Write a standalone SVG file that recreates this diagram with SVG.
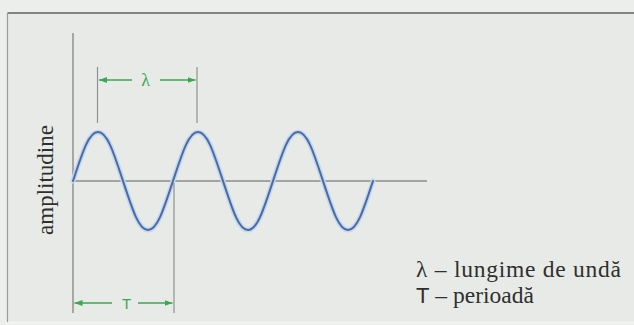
<svg xmlns="http://www.w3.org/2000/svg" width="634" height="325" viewBox="0 0 634 325">
  <style>
    .axis { stroke: #8a8c8a; stroke-width: 1.4; fill: none; }
    .guide { stroke: #8f918f; stroke-width: 1.2; fill: none; }
    .dim { stroke: #3aa852; stroke-width: 1.6; fill: none; }
    .halo { stroke: #c2d8ee; stroke-width: 5; fill: none; stroke-linecap: round; }
    .wave { stroke: #4d69a6; stroke-width: 2; fill: none; stroke-linecap: round; }
  </style>
  <defs>
    <marker id="arr" markerUnits="userSpaceOnUse" markerWidth="9" markerHeight="7" refX="8" refY="3.5" orient="auto">
      <path d="M0,0.5 L8,3.5 L0,6.5 z" fill="#3aa852"/>
    </marker>
  </defs>

  <rect x="0" y="0" width="634" height="325" fill="#eceeeb"/>
  <g id="frame">
    <rect x="7.5" y="13" width="627" height="309" fill="#e7eae6"/>
    <line x1="7.5" y1="13" x2="634" y2="13" stroke="#5e605e" stroke-width="1.5"/>
    <line x1="7.5" y1="13" x2="7.5" y2="322" stroke="#9a9c9a" stroke-width="1.2"/>
    <line x1="7.5" y1="322.5" x2="634" y2="322.5" stroke="#f6f7f5" stroke-width="1.5"/>
  </g>

  <g id="axes">
    <line class="axis" x1="73" y1="33" x2="73" y2="313"/>
    <line class="axis" x1="73" y1="181" x2="427" y2="181"/>
  </g>

  <g id="wave">
    <path class="halo" d="M73,181 c 10,-30.5 16,-49 25,-49 c 9,0 15,18.5 25,49 c 10,30.5 16,49 25,49 c 9,0 15,-18.5 25,-49 c 10,-30.5 16,-49 25,-49 c 9,0 15,18.5 25,49 c 10,30.5 16,49 25,49 c 9,0 15,-18.5 25,-49 c 10,-30.5 16,-49 25,-49 c 9,0 15,18.5 25,49 c 10,30.5 16,49 25,49 c 9,0 15,-18.5 25,-49"/>
    <path class="wave" d="M73,181 c 10,-30.5 16,-49 25,-49 c 9,0 15,18.5 25,49 c 10,30.5 16,49 25,49 c 9,0 15,-18.5 25,-49 c 10,-30.5 16,-49 25,-49 c 9,0 15,18.5 25,49 c 10,30.5 16,49 25,49 c 9,0 15,-18.5 25,-49 c 10,-30.5 16,-49 25,-49 c 9,0 15,18.5 25,49 c 10,30.5 16,49 25,49 c 9,0 15,-18.5 25,-49"/>
  </g>

  <g id="lambda-dimension">
    <line class="guide" x1="97.5" y1="67" x2="97.5" y2="123"/>
    <line class="guide" x1="197" y1="67" x2="197" y2="123"/>
    <line class="dim" x1="132" y1="80" x2="99" y2="80" marker-end="url(#arr)"/>
    <line class="dim" x1="160" y1="80" x2="195.5" y2="80" marker-end="url(#arr)"/>
    <text x="145.5" y="86" font-size="18" text-anchor="middle" style="font-family:'Liberation Serif','Times New Roman',serif;fill:#3aa852">λ</text>
  </g>

  <g id="period-dimension">
    <line class="guide" x1="174" y1="183" x2="174" y2="313"/>
    <line class="dim" x1="112" y1="303" x2="74.5" y2="303" marker-end="url(#arr)"/>
    <line class="dim" x1="138" y1="303" x2="172.5" y2="303" marker-end="url(#arr)"/>
    <text x="126.5" y="308.5" font-size="15" text-anchor="middle" style="font-family:'Liberation Sans',Arial,sans-serif;fill:#3aa852">T</text>
  </g>

  <g id="y-label">
    <text transform="translate(53,180) rotate(-90)" font-size="23" text-anchor="middle" style="font-family:'Liberation Serif','Times New Roman',serif;fill:#2e302e">amplitudine</text>
  </g>

  <g id="legend">
    <text x="416" y="277" font-size="23.5" textLength="205" lengthAdjust="spacing" style="font-family:'Liberation Serif','Times New Roman',serif;fill:#2e302e">λ – lungime de undă</text>
    <text x="416" y="303" font-size="23.5" style="font-family:'Liberation Serif','Times New Roman',serif;fill:#2e302e"><tspan style="font-family:'Liberation Sans',Arial,sans-serif" font-size="22">T</tspan> – perioadă</text>
  </g>
</svg>
